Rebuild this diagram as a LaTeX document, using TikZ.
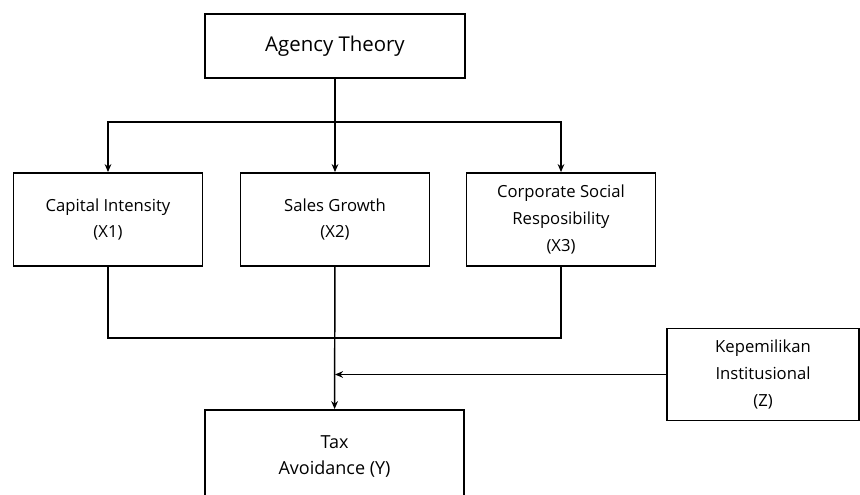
\documentclass[tikz,border=0pt]{standalone}
\usepackage{fontspec}
\setmainfont{Open Sans}
\usepackage{tikz}
\usetikzlibrary{arrows.meta}

\begin{document}
\begin{tikzpicture}[x=0.75pt,y=0.75pt,yscale=-1,xscale=1,
  varbox/.style={draw, line width=1.1pt, align=center, inner sep=0.75pt,
    font=\fontsize{12.5}{20}\selectfont},
  arr/.style={line width=1.1pt, -{Stealth[length=6pt,width=5pt]}},
  link/.style={line width=1.1pt}]
%set diagram left start at 0, and has height of 495
\clip (0,0) rectangle (860,495);

% Text Node
\node [varbox, minimum width=195pt, minimum height=48pt, font=\fontsize{15.3}{20}\selectfont] (agency) at (335,46) {Agency Theory};
% Text Node
\node [varbox, minimum width=142pt, minimum height=70pt] (capital) at (108,219.5) {Capital Intensity\\(X1)};
% Text Node
\node [varbox, minimum width=142pt, minimum height=70pt] (sales) at (335,219.5) {Sales Growth\\(X2)};
% Text Node
\node [varbox, minimum width=142pt, minimum height=70pt] (csr) at (561,219.5) {Corporate Social\\Resposibility\\(X3)};
% Text Node
\node [varbox, minimum width=144pt, minimum height=69pt] (kep) at (763,374.5) {Kepemilikan\\Institusional\\(Z)};
% Text Node
\node [varbox, minimum width=194pt, minimum height=70pt, font=\fontsize{13.5}{20}\selectfont] (tax) at (334.5,456.5) {Tax\\Avoidance (Y)};

\coordinate (split) at (335,122);
\coordinate (join) at (335,338);
\coordinate (meet) at (335,374.5);

%Straight Lines
\draw [link] (agency) -- (split);
\draw [arr] (split) -| (capital);
\draw [arr] (split) -- (sales);
\draw [arr] (split) -| (csr);
%Straight Lines
\draw [link] (capital.south) |- (join) -| (csr.south);
\draw [arr] (sales) -- (tax);
\draw [arr] (kep) -- (meet);

\end{tikzpicture}
\end{document}
